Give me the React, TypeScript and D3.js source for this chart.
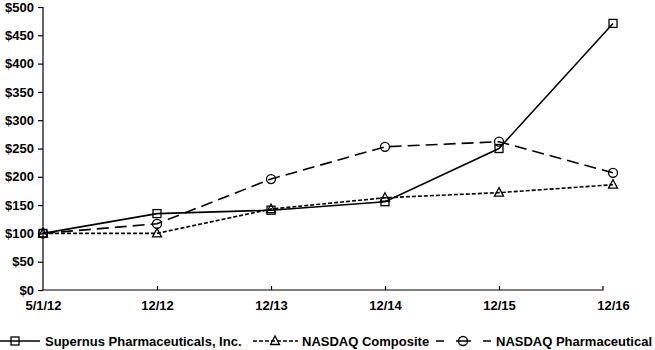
import React, { useEffect, useRef } from 'react';
import * as d3 from 'd3';

const periods = ['5/1/12', '12/12', '12/13', '12/14', '12/15', '12/16'];
const supernus = [100, 135, 141, 156, 250, 471];
const nasdaqComposite = [100, 100, 143, 163, 172, 186];
const nasdaqPharma = [100, 117, 196, 253, 262, 207];
const yTicks = [0, 50, 100, 150, 200, 250, 300, 350, 400, 450, 500];

type Marker = 'square' | 'triangle' | 'circle';
interface Series { name: string; values: number[]; dash: string | null; marker: Marker; }

const series: Series[] = [
  { name: 'Supernus Pharmaceuticals, Inc.', values: supernus, dash: null, marker: 'square' },
  { name: 'NASDAQ Composite', values: nasdaqComposite, dash: '4,2', marker: 'triangle' },
  { name: 'NASDAQ Pharmaceutical', values: nasdaqPharma, dash: '12,6', marker: 'circle' },
];

const drawMarker = (g: d3.Selection<SVGGElement, unknown, null, undefined>, kind: Marker, cx: number, cy: number) => {
  const style = (s: d3.Selection<any, unknown, null, undefined>) =>
    s.attr('fill', 'none').attr('stroke', '#000').attr('stroke-width', 1.3);
  if (kind === 'square') {
    style(g.append('rect').attr('x', cx - 4).attr('y', cy - 4).attr('width', 8).attr('height', 8));
  } else if (kind === 'circle') {
    style(g.append('circle').attr('cx', cx).attr('cy', cy).attr('r', 4.5));
  } else {
    style(g.append('path').attr('d', `M${cx},${cy - 5}L${cx + 4.5},${cy + 3.5}L${cx - 4.5},${cy + 3.5}Z`));
  }
};

export default function App() {
  const ref = useRef<SVGSVGElement | null>(null);

  useEffect(() => {
    if (!ref.current) return;
    const svg = d3.select(ref.current);
    svg.selectAll('*').remove();

    const width = 655;
    const margin = { left: 43, right: 42, top: 7 };
    const baseline = 290;
    const axisEnd = 603;
    const font = 'Liberation Sans, Arial, sans-serif';

    const x = d3.scalePoint<string>().domain(periods).range([margin.left, width - margin.right]);
    const y = d3.scaleLinear().domain([0, 500]).range([baseline, margin.top]);

    // y axis
    const yAxis = svg.append('g')
      .attr('transform', `translate(${margin.left},0)`)
      .call(d3.axisLeft(y).tickValues(yTicks).tickSize(5).tickPadding(4).tickFormat(d => `$${d}`));
    yAxis.select('.domain').attr('stroke', '#000').attr('stroke-width', 1.2).attr('d', `M0,${y(500)}V${baseline}`);
    yAxis.selectAll('text').attr('font-family', font).attr('font-size', 13).attr('font-weight', 'bold').attr('fill', '#000');
    yAxis.selectAll('line').attr('stroke', '#000').attr('stroke-width', 1.2);

    // x axis, ticks point up into the plot
    const xAxis = svg.append('g')
      .attr('transform', `translate(0,${baseline})`)
      .call(d3.axisBottom(x).tickSize(-4));
    xAxis.select('.domain').attr('stroke', '#000').attr('stroke-width', 1.2).attr('d', `M${margin.left},0H${axisEnd}V-4`);
    xAxis.selectAll('text')
      .attr('y', 11).attr('dy', '0.71em')
      .attr('font-family', font).attr('font-size', 13).attr('font-weight', 'bold').attr('fill', '#000');
    xAxis.selectAll('line')
      .attr('stroke', '#000').attr('stroke-width', 1.2)
      .attr('display', (d: any) => (d === periods[0] || d === periods[periods.length - 1] ? 'none' : null));

    const line = d3.line<number>()
      .x((_, i) => x(periods[i])!)
      .y(d => y(d));

    series.forEach(s => {
      svg.append('path')
        .attr('d', line(s.values)!)
        .attr('fill', 'none')
        .attr('stroke', '#000')
        .attr('stroke-width', 1.6)
        .attr('stroke-dasharray', s.dash ?? null);
    });
    series.forEach(s => {
      const g = svg.append('g');
      s.values.forEach((v, i) => drawMarker(g, s.marker, x(periods[i])!, y(v)));
    });

    // legend
    const legendY = 341;
    const legendItems = [
      { x0: 0, x1: 40, mark: 15, text: 45, dash: null },
      { x0: 253, x1: 298, mark: 275, text: 302, dash: '4,2' },
      { x0: 436, x1: 491, mark: 463, text: 496, dash: '8,12,15,12,8' },
    ];
    series.forEach((s, i) => {
      const p = legendItems[i];
      const g = svg.append('g').attr('transform', `translate(0,${legendY})`);
      g.append('line')
        .attr('x1', p.x0).attr('x2', p.x1).attr('y1', 0).attr('y2', 0)
        .attr('stroke', '#000').attr('stroke-width', 1.6)
        .attr('stroke-dasharray', p.dash);
      drawMarker(g, s.marker, p.mark, 0);
      g.append('text')
        .attr('x', p.text).attr('y', 0).attr('dy', '0.35em')
        .attr('font-family', font).attr('font-size', 13).attr('font-weight', 'bold')
        .text(s.name);
    });
  }, []);

  return (
    <svg ref={ref} width={655} height={350} style={{ position: 'absolute', left: 0, top: 0, background: '#fff' }} />
  );
}
